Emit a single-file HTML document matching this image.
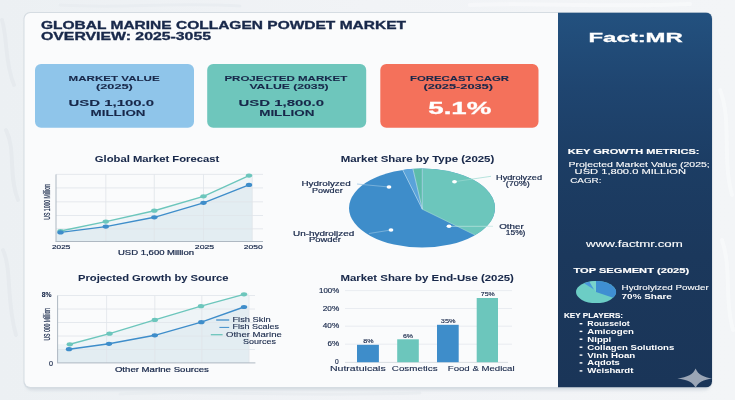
<!DOCTYPE html>
<html lang="en">
<head>
<meta charset="utf-8">
<title>Global Marine Collagen Powder Market Overview</title>
<style>
html,body{margin:0;padding:0;background:#f0f2f5;}
body{width:735px;height:400px;overflow:hidden;}
svg{display:block;}
text{font-family:"Liberation Sans",sans-serif;}
</style>
</head>
<body>
<svg width="735" height="400" viewBox="0 0 735 400">
<defs>
<linearGradient id="pg" x1="0" y1="0" x2="0" y2="1">
<stop offset="0" stop-color="#23517f"/>
<stop offset="0.2" stop-color="#1f4570"/>
<stop offset="0.4" stop-color="#1c3d64"/>
<stop offset="0.65" stop-color="#1b385c"/>
<stop offset="1" stop-color="#1a3558"/>
</linearGradient>
<linearGradient id="bgg" x1="0" y1="0" x2="1" y2="0">
<stop offset="0" stop-color="#ecf0f3"/>
<stop offset="0.5" stop-color="#f1f3f6"/>
<stop offset="1" stop-color="#f3f5f7"/>
</linearGradient>
<filter id="sh" x="-5%" y="-5%" width="110%" height="110%"><feGaussianBlur stdDeviation="1.6"/></filter>
<clipPath id="cardclip"><rect x="24" y="12.5" width="688" height="375" rx="6"/></clipPath>
</defs>

<rect x="0" y="0" width="735" height="400" fill="url(#bgg)"/>
<g fill="none" stroke-linecap="round" opacity="0.75">
<path d="M2 20 C8 40 4 60 14 85 M6 130 C16 150 8 175 18 200 M3 250 C12 270 6 300 16 335" stroke="#e4e9ed" stroke-width="4"/>
<path d="M60 5 C120 9 170 2 240 6 M120 394 C200 390 300 397 420 393" stroke="#e8ecf0" stroke-width="3"/>
<path d="M720 90 C732 120 722 160 732 195 M722 240 C732 270 724 300 733 330 M470 5 C540 2 600 8 690 4" stroke="#f8f9fb" stroke-width="4"/>
</g>
<rect x="25" y="15" width="686" height="375.5" rx="7" fill="#cfd6dd" opacity="0.7" filter="url(#sh)"/>
<rect x="23.5" y="12" width="689" height="376.5" rx="6.5" fill="#d5dce2"/>
<rect x="24.5" y="13" width="687" height="374" rx="6" fill="#fafbfc"/>
<g clip-path="url(#cardclip)"><rect x="558" y="12.5" width="154.5" height="375" fill="url(#pg)"/></g>
<text x="41.0" y="28.8" font-size="10" font-weight="700" fill="#18284a" stroke="#18284a" stroke-width="0.3" textLength="365.0" lengthAdjust="spacingAndGlyphs">GLOBAL MARINE COLLAGEN POWDET MARKET</text>
<text x="41.0" y="39.8" font-size="10" font-weight="700" fill="#18284a" stroke="#18284a" stroke-width="0.3" textLength="170.0" lengthAdjust="spacingAndGlyphs">OVERVIEW: 2025-3055</text>
<rect x="35" y="64" width="159" height="63.7" rx="6" fill="#8fc5ea"/>
<rect x="207.2" y="64" width="159" height="63.7" rx="6" fill="#6ec6bc"/>
<rect x="380.3" y="64" width="158.2" height="63.7" rx="6" fill="#f4715b"/>
<text x="68.6" y="80.7" font-size="8" font-weight="700" fill="#18284a" stroke="#18284a" stroke-width="0.1" textLength="91.1" lengthAdjust="spacingAndGlyphs">MARKET VALUE</text>
<text x="96.0" y="88.5" font-size="8" font-weight="700" fill="#18284a" stroke="#18284a" stroke-width="0.1" textLength="36.8" lengthAdjust="spacingAndGlyphs">(2025)</text>
<text x="68.6" y="105.7" font-size="9.3" font-weight="700" fill="#18284a" stroke="#18284a" stroke-width="0.1" textLength="85.4" lengthAdjust="spacingAndGlyphs">USD 1,100.0</text>
<text x="90.6" y="115.5" font-size="9.3" font-weight="700" fill="#18284a" stroke="#18284a" stroke-width="0.1" textLength="54.9" lengthAdjust="spacingAndGlyphs">MILLION</text>
<text x="224.4" y="80.7" font-size="8" font-weight="700" fill="#18284a" stroke="#18284a" stroke-width="0.1" textLength="122.9" lengthAdjust="spacingAndGlyphs">PROJECTED MARKET</text>
<text x="249.4" y="88.5" font-size="8" font-weight="700" fill="#18284a" stroke="#18284a" stroke-width="0.1" textLength="79.1" lengthAdjust="spacingAndGlyphs">VALUE (2035)</text>
<text x="238.6" y="105.7" font-size="9.3" font-weight="700" fill="#18284a" stroke="#18284a" stroke-width="0.1" textLength="85.4" lengthAdjust="spacingAndGlyphs">USD 1,800.0</text>
<text x="259.2" y="115.5" font-size="9.3" font-weight="700" fill="#18284a" stroke="#18284a" stroke-width="0.1" textLength="55.3" lengthAdjust="spacingAndGlyphs">MILLION</text>
<text x="410.0" y="80.7" font-size="8" font-weight="700" fill="#18284a" stroke="#18284a" stroke-width="0.1" textLength="99.0" lengthAdjust="spacingAndGlyphs">FORECAST CAGR</text>
<text x="423.4" y="88.5" font-size="8" font-weight="700" fill="#18284a" stroke="#18284a" stroke-width="0.1" textLength="69.6" lengthAdjust="spacingAndGlyphs">(2025-2035)</text>
<text x="428.3" y="113.8" font-size="16" font-weight="700" fill="#ffffff" stroke="#ffffff" stroke-width="0.3" textLength="62.9" lengthAdjust="spacingAndGlyphs">5.1%</text>
<text x="94.8" y="161.7" font-size="8.6" font-weight="700" fill="#18284a" stroke="#18284a" stroke-width="0.05" textLength="124.4" lengthAdjust="spacingAndGlyphs">Global Market Forecast</text>
<text x="340.7" y="161.7" font-size="8.6" font-weight="700" fill="#18284a" stroke="#18284a" stroke-width="0.05" textLength="153.6" lengthAdjust="spacingAndGlyphs">Market Share by Type (2025)</text>
<text x="78.0" y="280.8" font-size="8.6" font-weight="700" fill="#18284a" stroke="#18284a" stroke-width="0.05" textLength="150.5" lengthAdjust="spacingAndGlyphs">Projected Growth by Source</text>
<text x="340.4" y="280.8" font-size="8.6" font-weight="700" fill="#18284a" stroke="#18284a" stroke-width="0.05" textLength="173.5" lengthAdjust="spacingAndGlyphs">Market Share by End-Use (2025)</text>
<g>
<polygon points="60.5,231.0 105.8,221.6 154.3,210.7 203.5,196.3 249.0,175.6 252,175 252,241.5 56,241.5 56,231" fill="#eef4f7"/>
<polygon points="60.5,232.4 105.8,226.6 154.3,217.3 203.5,202.8 249.0,184.9 252,184 252,241.5 56,241.5 56,232.4" fill="#e3edf2"/>
<line x1="105.8" y1="174.4" x2="105.8" y2="241.5" stroke="#dfe5ea" stroke-width="0.8"/>
<line x1="154.3" y1="174.4" x2="154.3" y2="241.5" stroke="#dfe5ea" stroke-width="0.8"/>
<line x1="203.5" y1="174.4" x2="203.5" y2="241.5" stroke="#dfe5ea" stroke-width="0.8"/>
<line x1="252.3" y1="174.4" x2="252.3" y2="241.5" stroke="#dfe5ea" stroke-width="0.8"/>
<line x1="56" y1="174.4" x2="263" y2="174.4" stroke="#dfe5ea" stroke-width="0.8"/>
<line x1="56" y1="187.9" x2="263" y2="187.9" stroke="#dfe5ea" stroke-width="0.8"/>
<line x1="56" y1="201.8" x2="263" y2="201.8" stroke="#dfe5ea" stroke-width="0.8"/>
<line x1="56" y1="215.5" x2="263" y2="215.5" stroke="#dfe5ea" stroke-width="0.8"/>
<line x1="56" y1="228.8" x2="263" y2="228.8" stroke="#dfe5ea" stroke-width="0.8"/>
<line x1="56" y1="174.4" x2="56" y2="241.5" stroke="#aeb8c2" stroke-width="1"/>
<line x1="55.5" y1="241.5" x2="263" y2="241.5" stroke="#aeb8c2" stroke-width="1"/>
<polyline points="60.5,231.0 105.8,221.6 154.3,210.7 203.5,196.3 249.0,175.6" fill="none" stroke="#6cc6bc" stroke-width="1.4"/>
<polyline points="60.5,232.4 105.8,226.6 154.3,217.3 203.5,202.8 249.0,184.9" fill="none" stroke="#3e8dca" stroke-width="1.4"/>
<ellipse cx="60.5" cy="231" rx="3.2" ry="2.1" fill="#6cc6bc"/>
<ellipse cx="105.8" cy="221.6" rx="3.2" ry="2.1" fill="#6cc6bc"/>
<ellipse cx="154.3" cy="210.7" rx="3.2" ry="2.1" fill="#6cc6bc"/>
<ellipse cx="203.5" cy="196.3" rx="3.2" ry="2.1" fill="#6cc6bc"/>
<ellipse cx="249" cy="175.6" rx="3.2" ry="2.1" fill="#6cc6bc"/>
<ellipse cx="60.5" cy="232.4" rx="3.2" ry="2.1" fill="#3e8dca"/>
<ellipse cx="105.8" cy="226.6" rx="3.2" ry="2.1" fill="#3e8dca"/>
<ellipse cx="154.3" cy="217.3" rx="3.2" ry="2.1" fill="#3e8dca"/>
<ellipse cx="203.5" cy="202.8" rx="3.2" ry="2.1" fill="#3e8dca"/>
<ellipse cx="249" cy="184.9" rx="3.2" ry="2.1" fill="#3e8dca"/>
</g>
<text x="52.0" y="248.7" font-size="6.1" font-weight="400" fill="#18284a" stroke="#18284a" stroke-width="0.18" textLength="18.3" lengthAdjust="spacingAndGlyphs">2025</text>
<text x="194.8" y="248.7" font-size="6.1" font-weight="400" fill="#18284a" stroke="#18284a" stroke-width="0.18" textLength="19.4" lengthAdjust="spacingAndGlyphs">2025</text>
<text x="243.8" y="248.7" font-size="6.1" font-weight="400" fill="#18284a" stroke="#18284a" stroke-width="0.18" textLength="18.9" lengthAdjust="spacingAndGlyphs">2050</text>
<text x="118.0" y="254.5" font-size="6.3" font-weight="400" fill="#18284a" stroke="#18284a" stroke-width="0.2" textLength="76.0" lengthAdjust="spacingAndGlyphs">USD 1,600 Million</text>
<text transform="translate(49.6,219.7) rotate(-90)" font-size="9" font-weight="400" fill="#18284a" stroke="#18284a" stroke-width="0.25" textLength="35.7" lengthAdjust="spacingAndGlyphs">US 1000 Million</text>
<ellipse cx="422" cy="208" rx="73" ry="39.5" fill="#3e8dca"/>
<path d="M422.3 209.2 L422.3 168.5 A73 39.5 0 0 1 475.2 235.1 Z" fill="#6cc6bc"/>
<path d="M422.3 209.2 L402.7 169.9 A73 39.5 0 0 1 412.9 168.8 Z" fill="#5aa3da"/>
<path d="M422.3 209.2 L412.9 168.8 A73 39.5 0 0 1 422.3 168.5 Z" fill="#5dbcaa"/>
<line x1="422.3" y1="209.2" x2="402.7" y2="169.9" stroke="#cfe6f3" stroke-width="0.6"/>
<line x1="422.3" y1="209.2" x2="412.9" y2="168.8" stroke="#cfe6f3" stroke-width="0.6"/>
<line x1="422.3" y1="209.2" x2="422.3" y2="168.5" stroke="#cfe6f3" stroke-width="0.6"/>
<line x1="422.3" y1="209.2" x2="475.2" y2="235.1" stroke="#a9dcd6" stroke-width="0.6"/>
<line x1="357" y1="184" x2="389" y2="187" stroke="#8fbfe0" stroke-width="0.7"/><ellipse cx="389" cy="187" rx="2.4" ry="1.7" fill="#fff"/>
<line x1="369" y1="233.5" x2="391" y2="230" stroke="#8fbfe0" stroke-width="0.7"/><ellipse cx="391" cy="230" rx="2.4" ry="1.7" fill="#fff"/>
<line x1="454.5" y1="181.7" x2="491" y2="176.3" stroke="#9ad8d0" stroke-width="0.7"/><ellipse cx="454.5" cy="181.7" rx="2.4" ry="1.7" fill="#fff"/>
<line x1="449" y1="226.3" x2="493" y2="226.3" stroke="#bfe6e1" stroke-width="0.7"/><ellipse cx="449" cy="226.3" rx="2.4" ry="1.7" fill="#fff"/>
<text x="301.5" y="186.3" font-size="6.4" font-weight="400" fill="#18284a" stroke="#18284a" stroke-width="0.18" textLength="49.2" lengthAdjust="spacingAndGlyphs">Hydrolyzed</text>
<text x="312.0" y="193.1" font-size="6.4" font-weight="400" fill="#18284a" stroke="#18284a" stroke-width="0.18" textLength="30.7" lengthAdjust="spacingAndGlyphs">Powder</text>
<text x="293.0" y="235.8" font-size="6.4" font-weight="400" fill="#18284a" stroke="#18284a" stroke-width="0.18" textLength="61.2" lengthAdjust="spacingAndGlyphs">Un-hydroljzed</text>
<text x="309.0" y="242.4" font-size="6.4" font-weight="400" fill="#18284a" stroke="#18284a" stroke-width="0.18" textLength="32.0" lengthAdjust="spacingAndGlyphs">Powder</text>
<text x="496.0" y="179.5" font-size="6.4" font-weight="400" fill="#18284a" stroke="#18284a" stroke-width="0.18" textLength="46.0" lengthAdjust="spacingAndGlyphs">Hydrolyzed</text>
<text x="505.8" y="185.8" font-size="6.4" font-weight="400" fill="#18284a" stroke="#18284a" stroke-width="0.18" textLength="24.0" lengthAdjust="spacingAndGlyphs">(70%)</text>
<text x="499.2" y="228.8" font-size="6.4" font-weight="400" fill="#18284a" stroke="#18284a" stroke-width="0.18" textLength="24.5" lengthAdjust="spacingAndGlyphs">Other</text>
<text x="505.8" y="235.1" font-size="6.4" font-weight="400" fill="#18284a" stroke="#18284a" stroke-width="0.18" textLength="19.6" lengthAdjust="spacingAndGlyphs">15%)</text>
<polygon points="69.8,344.3 109.5,333.7 154.8,319.9 201.0,306.2 244.0,294.3 249,293 249,362.9 57.6,362.9 57.6,344.3" fill="#eef4f7"/>
<polygon points="69.0,349.2 109.0,343.8 154.8,335.3 201.3,322.2 244.0,307.0 249,305.5 249,362.9 57.6,362.9 57.6,349.2" fill="#e3edf2"/>
<line x1="106.6" y1="295.5" x2="106.6" y2="362.9" stroke="#dfe5ea" stroke-width="0.8"/>
<line x1="154.8" y1="295.5" x2="154.8" y2="362.9" stroke="#dfe5ea" stroke-width="0.8"/>
<line x1="201.8" y1="295.5" x2="201.8" y2="362.9" stroke="#dfe5ea" stroke-width="0.8"/>
<line x1="249" y1="295.5" x2="249" y2="362.9" stroke="#dfe5ea" stroke-width="0.8"/>
<line x1="57.6" y1="295.5" x2="255" y2="295.5" stroke="#dfe5ea" stroke-width="0.8"/>
<line x1="57.6" y1="309" x2="255" y2="309" stroke="#dfe5ea" stroke-width="0.8"/>
<line x1="57.6" y1="322.5" x2="255" y2="322.5" stroke="#dfe5ea" stroke-width="0.8"/>
<line x1="57.6" y1="336" x2="255" y2="336" stroke="#dfe5ea" stroke-width="0.8"/>
<line x1="57.6" y1="349.5" x2="255" y2="349.5" stroke="#dfe5ea" stroke-width="0.8"/>
<line x1="57.6" y1="295.5" x2="57.6" y2="362.9" stroke="#aeb8c2" stroke-width="1"/>
<line x1="57" y1="362.9" x2="255.4" y2="362.9" stroke="#aeb8c2" stroke-width="1"/>
<polyline points="69.8,344.3 109.5,333.7 154.8,319.9 201.0,306.2 244.0,294.3" fill="none" stroke="#6cc6bc" stroke-width="1.4"/>
<polyline points="69.0,349.2 109.0,343.8 154.8,335.3 201.3,322.2 244.0,307.0" fill="none" stroke="#3e8dca" stroke-width="1.4"/>
<ellipse cx="69.8" cy="344.3" rx="3.2" ry="2.1" fill="#6cc6bc"/>
<ellipse cx="109.5" cy="333.7" rx="3.2" ry="2.1" fill="#6cc6bc"/>
<ellipse cx="154.8" cy="319.9" rx="3.2" ry="2.1" fill="#6cc6bc"/>
<ellipse cx="201" cy="306.2" rx="3.2" ry="2.1" fill="#6cc6bc"/>
<ellipse cx="244" cy="294.3" rx="3.2" ry="2.1" fill="#6cc6bc"/>
<ellipse cx="69" cy="349.2" rx="3.2" ry="2.1" fill="#3e8dca"/>
<ellipse cx="109" cy="343.8" rx="3.2" ry="2.1" fill="#3e8dca"/>
<ellipse cx="154.8" cy="335.3" rx="3.2" ry="2.1" fill="#3e8dca"/>
<ellipse cx="201.3" cy="322.2" rx="3.2" ry="2.1" fill="#3e8dca"/>
<ellipse cx="244" cy="307" rx="3.2" ry="2.1" fill="#3e8dca"/>
<text x="41.7" y="296.9" font-size="6.6" font-weight="700" fill="#18284a" stroke="#18284a" stroke-width="0.1" textLength="9.8" lengthAdjust="spacingAndGlyphs">8%</text>
<text x="49.0" y="365.6" font-size="6.4" font-weight="400" fill="#18284a" stroke="#18284a" stroke-width="0.15" textLength="4.0" lengthAdjust="spacingAndGlyphs">0</text>
<text x="114.9" y="371.6" font-size="6.6" font-weight="400" fill="#18284a" stroke="#18284a" stroke-width="0.2" textLength="94.0" lengthAdjust="spacingAndGlyphs">Other Marine Sources</text>
<text transform="translate(49.8,340.6) rotate(-90)" font-size="9" font-weight="400" fill="#18284a" stroke="#18284a" stroke-width="0.25" textLength="32.8" lengthAdjust="spacingAndGlyphs">US 000 Million</text>
<line x1="216.2" y1="320" x2="229.2" y2="320" stroke="#3e8dca" stroke-width="1.3"/>
<line x1="219.4" y1="327.4" x2="229.2" y2="327.4" stroke="#3e8dca" stroke-width="1"/>
<line x1="210.8" y1="334.7" x2="222.6" y2="334.7" stroke="#6cc6bc" stroke-width="1.3"/>
<text x="232.4" y="322.0" font-size="6.3" font-weight="400" fill="#18284a" stroke="#18284a" stroke-width="0.1" textLength="38.4" lengthAdjust="spacingAndGlyphs">Fish Skin</text>
<text x="232.4" y="329.3" font-size="6.3" font-weight="400" fill="#18284a" stroke="#18284a" stroke-width="0.1" textLength="46.5" lengthAdjust="spacingAndGlyphs">Fish Scales</text>
<text x="226.0" y="336.7" font-size="6.3" font-weight="400" fill="#18284a" stroke="#18284a" stroke-width="0.1" textLength="55.8" lengthAdjust="spacingAndGlyphs">Other Marine</text>
<text x="243.0" y="343.6" font-size="6.3" font-weight="400" fill="#18284a" stroke="#18284a" stroke-width="0.1" textLength="33.0" lengthAdjust="spacingAndGlyphs">Sources</text>
<line x1="345" y1="290.6" x2="512" y2="290.6" stroke="#e4e9ed" stroke-width="0.8"/>
<line x1="345" y1="308.5" x2="512" y2="308.5" stroke="#e4e9ed" stroke-width="0.8"/>
<line x1="345" y1="326.2" x2="512" y2="326.2" stroke="#e4e9ed" stroke-width="0.8"/>
<line x1="345" y1="344.2" x2="512" y2="344.2" stroke="#e4e9ed" stroke-width="0.8"/>
<line x1="345" y1="362.4" x2="508" y2="362.4" stroke="#cfd6dc" stroke-width="0.8"/>
<rect x="357" y="344.8" width="21.9" height="17.4" fill="#3e8dca"/>
<rect x="397.2" y="339.3" width="21.6" height="22.9" fill="#6cc6bc"/>
<rect x="437" y="324.8" width="21.7" height="37.4" fill="#3e8dca"/>
<rect x="476.7" y="298" width="21.3" height="64.2" fill="#6cc6bc"/>
<text x="319.0" y="292.7" font-size="6.4" font-weight="400" fill="#18284a" stroke="#18284a" stroke-width="0.15" textLength="20.2" lengthAdjust="spacingAndGlyphs">100%</text>
<text x="322.8" y="310.6" font-size="6.4" font-weight="400" fill="#18284a" stroke="#18284a" stroke-width="0.15" textLength="16.4" lengthAdjust="spacingAndGlyphs">20%</text>
<text x="322.8" y="328.3" font-size="6.4" font-weight="400" fill="#18284a" stroke="#18284a" stroke-width="0.15" textLength="16.4" lengthAdjust="spacingAndGlyphs">40%</text>
<text x="327.4" y="345.8" font-size="6.4" font-weight="400" fill="#18284a" stroke="#18284a" stroke-width="0.15" textLength="11.8" lengthAdjust="spacingAndGlyphs">6%</text>
<text x="335.0" y="364.2" font-size="6.4" font-weight="400" fill="#18284a" stroke="#18284a" stroke-width="0.15" textLength="3.7" lengthAdjust="spacingAndGlyphs">0</text>
<text x="363.2" y="343.0" font-size="6.2" font-weight="400" fill="#18284a" stroke="#18284a" stroke-width="0.15" textLength="10.3" lengthAdjust="spacingAndGlyphs">8%</text>
<text x="402.9" y="337.5" font-size="6.2" font-weight="400" fill="#18284a" stroke="#18284a" stroke-width="0.15" textLength="10.1" lengthAdjust="spacingAndGlyphs">6%</text>
<text x="440.8" y="322.9" font-size="6.2" font-weight="400" fill="#18284a" stroke="#18284a" stroke-width="0.15" textLength="14.7" lengthAdjust="spacingAndGlyphs">35%</text>
<text x="480.8" y="296.0" font-size="6.2" font-weight="400" fill="#18284a" stroke="#18284a" stroke-width="0.15" textLength="14.0" lengthAdjust="spacingAndGlyphs">75%</text>
<text x="329.9" y="370.5" font-size="6.3" font-weight="400" fill="#18284a" stroke="#18284a" stroke-width="0.1" textLength="55.8" lengthAdjust="spacingAndGlyphs">Nutratuicals</text>
<text x="391.8" y="370.5" font-size="6.3" font-weight="400" fill="#18284a" stroke="#18284a" stroke-width="0.1" textLength="45.8" lengthAdjust="spacingAndGlyphs">Cosmetics</text>
<text x="447.8" y="370.5" font-size="6.3" font-weight="400" fill="#18284a" stroke="#18284a" stroke-width="0.1" textLength="66.8" lengthAdjust="spacingAndGlyphs">Food &amp; Medical</text>
<text x="588.5" y="41.7" font-size="13.5" font-weight="700" fill="#ffffff" stroke="#ffffff" stroke-width="0.3" textLength="94.3" lengthAdjust="spacingAndGlyphs">Fact:MR</text>
<text x="567.7" y="153.8" font-size="8" font-weight="700" fill="#ffffff" stroke="#ffffff" stroke-width="0.15" textLength="131.8" lengthAdjust="spacingAndGlyphs">KEY GROWTH METRICS:</text>
<text x="568.5" y="166.5" font-size="7.2" font-weight="400" fill="#ffffff" stroke="#ffffff" stroke-width="0.1" textLength="141.3" lengthAdjust="spacingAndGlyphs">Projected Market Value (2025;</text>
<text x="574.6" y="174.4" font-size="7.2" font-weight="400" fill="#ffffff" stroke="#ffffff" stroke-width="0.1" textLength="111.4" lengthAdjust="spacingAndGlyphs">USD 1,800.0 MILLION</text>
<text x="570.2" y="182.5" font-size="7.2" font-weight="400" fill="#ffffff" stroke="#ffffff" stroke-width="0.1" textLength="31.3" lengthAdjust="spacingAndGlyphs">CAGR:</text>
<text x="586.1" y="246.6" font-size="8.6" font-weight="400" fill="#ffffff" stroke="#ffffff" stroke-width="0.1" textLength="96.7" lengthAdjust="spacingAndGlyphs">www.factmr.com</text>
<text x="573.4" y="272.8" font-size="7.8" font-weight="700" fill="#ffffff" stroke="#ffffff" stroke-width="0.15" textLength="115.8" lengthAdjust="spacingAndGlyphs">TOP SEGMENT (2025)</text>
<ellipse cx="596" cy="292.1" rx="20" ry="11" fill="#6ccdc5"/>
<path d="M596 292.1 L596.0 281.1 A20 11 0 0 1 613.1 297.8 Z" fill="#3f8fd2"/>
<path d="M594 289.6 L584.0 283.3 A20 11 0 0 1 589.5 281.7 Z" fill="#4a98dc"/>
<path d="M596 292.1 L589.5 281.7 A20 11 0 0 1 596.0 281.1 Z" fill="#7ad3cc"/>
<text x="621.6" y="289.9" font-size="7.4" font-weight="400" fill="#ffffff" stroke="#ffffff" stroke-width="0.1" textLength="87.2" lengthAdjust="spacingAndGlyphs">Hydrolyized Powder</text>
<text x="621.6" y="298.5" font-size="7.4" font-weight="700" fill="#ffffff" textLength="50.2" lengthAdjust="spacingAndGlyphs">70% Share</text>
<text x="564.0" y="318.4" font-size="6.6" font-weight="700" fill="#ffffff" stroke="#ffffff" stroke-width="0.1" textLength="59.0" lengthAdjust="spacingAndGlyphs">KEY PLAYERS:</text>
<rect x="579.6" y="323.0" width="2.8" height="1.4" fill="#fff"/>
<text x="587.3" y="326.2" font-size="6.8" font-weight="700" fill="#ffffff" textLength="42.4" lengthAdjust="spacingAndGlyphs">Rousselot</text>
<rect x="579.6" y="330.7" width="2.8" height="1.4" fill="#fff"/>
<text x="587.3" y="333.9" font-size="6.8" font-weight="700" fill="#ffffff" textLength="46.6" lengthAdjust="spacingAndGlyphs">Amicogen</text>
<rect x="579.6" y="338.5" width="2.8" height="1.4" fill="#fff"/>
<text x="587.3" y="341.7" font-size="6.8" font-weight="700" fill="#ffffff" textLength="24.0" lengthAdjust="spacingAndGlyphs">Nippi</text>
<rect x="579.6" y="346.5" width="2.8" height="1.4" fill="#fff"/>
<text x="587.3" y="349.7" font-size="6.8" font-weight="700" fill="#ffffff" textLength="87.0" lengthAdjust="spacingAndGlyphs">Collagen Solutions</text>
<rect x="579.6" y="354.4" width="2.8" height="1.4" fill="#fff"/>
<text x="587.3" y="357.6" font-size="6.8" font-weight="700" fill="#ffffff" textLength="48.0" lengthAdjust="spacingAndGlyphs">Vinh Hoan</text>
<rect x="579.6" y="362.2" width="2.8" height="1.4" fill="#fff"/>
<text x="587.3" y="365.4" font-size="6.8" font-weight="700" fill="#ffffff" textLength="32.6" lengthAdjust="spacingAndGlyphs">Aqdots</text>
<rect x="579.6" y="370.2" width="2.8" height="1.4" fill="#fff"/>
<text x="587.3" y="373.4" font-size="6.8" font-weight="700" fill="#ffffff" textLength="46.1" lengthAdjust="spacingAndGlyphs">Weishardt</text>
<path d="M695.6 368.6 C698 374.6 703.5 377.4 712.2 378.5 C703.5 379.6 698 382.4 695.6 388 C693.2 382.4 687.5 379.6 677.3 378.5 C687.5 377.4 693.2 374.6 695.6 368.6 Z" fill="#9ba6b6"/>
</svg>
</body>
</html>
